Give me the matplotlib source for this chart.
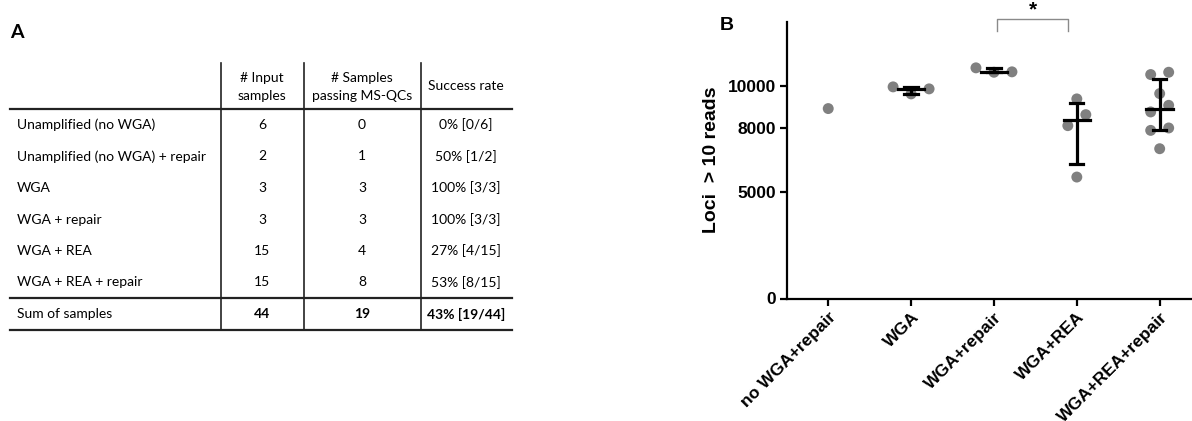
import numpy as np
import matplotlib.pyplot as plt

# --- table (panel A) ---
row_labels = ['Unamplified (no WGA)', 'Unamplified (no WGA) + repair', 'WGA',
              'WGA + repair', 'WGA + REA', 'WGA + REA + repair']
input_samples = [6, 2, 3, 3, 15, 15]
passing_qc = [0, 1, 3, 3, 4, 8]
header = ['# Input\nsamples', '# Samples\npassing MS-QCs', 'Success rate']
sum_label = 'Sum of samples'

# --- loci > 10 reads (panel B) ---
groups = ['no WGA+repair', 'WGA', 'WGA+repair', 'WGA+REA', 'WGA+REA+repair']
loci_nowga_repair = [8920]
loci_wga = [9939, 9609, 9845]
loci_wga_repair = [10833, 10626, 10645]
loci_wga_rea = [9374, 8635, 8118, 5704]
loci_wga_rea_repair = [10518, 10626, 9624, 9073, 8762, 8009, 7896, 7035]
loci = [loci_nowga_repair, loci_wga, loci_wga_repair, loci_wga_rea, loci_wga_rea_repair]
yticks = [0, 5000, 8000, 10000]
sig_pair = (2, 3)


def rate(p, n):
    return f'{round(100 * p / n)}% [{p}/{n}]'


def swarm(ax, x0, vals, row_gap=11.5, step=18):
    # group close values into rows (pixel units), then spread each row sideways
    ypx = ax.transData.transform(np.column_stack([np.full(len(vals), x0), vals]))[:, 1]
    xpx = ax.transData.transform([[x0 + 1, 0]])[0, 0] - ax.transData.transform([[x0, 0]])[0, 0]
    order = np.argsort(vals)
    rows, cur = [], [order[0]]
    for i in order[1:]:
        if abs(ypx[i] - ypx[cur[0]]) < row_gap:
            cur.append(i)
        else:
            rows.append(cur)
            cur = [i]
    rows.append(cur)
    offs = np.zeros(len(vals))
    for r in rows:
        n = len(r)
        if n % 2:
            slots = [0] + [s * k for k in range(1, n) for s in (1, -1)]
        else:
            slots = [s * (k - 0.5) for k in range(1, n) for s in (-1, 1)]
        for j, i in enumerate(r):
            offs[i] = slots[j] * step
    return x0 + offs / xpx


W, H = 1192, 421
fig = plt.figure(figsize=(W / 100, H / 100), dpi=100)

# panel A drawn in pixel space
ta = fig.add_axes([0, 0, 1, 1])
ta.set_xlim(0, W)
ta.set_ylim(H, 0)
ta.axis('off')
tfont = dict(family=['Lato', 'DejaVu Sans'], fontsize=10, color='black')

left, right = 10, 512
cols = [221, 304, 421]
col_mid = [262, 362, 466]
top, head_bot, sum_top, bottom = 63, 109, 298, 330
row_y = np.linspace(125, 282.5, len(row_labels))

for x in cols:
    ta.plot([x, x], [top, bottom], color='#222222', lw=1.2)
for y in (head_bot, sum_top, bottom):
    ta.plot([left, right], [y, y], color='#222222', lw=1.6)

for j, h in enumerate(header):
    ta.text(col_mid[j], 86.5, h, ha='center', va='center', linespacing=1.6, **tfont)

for i, lab in enumerate(row_labels):
    y = row_y[i]
    ta.text(17, y, lab, ha='left', va='center', **tfont)
    ta.text(col_mid[0], y, str(input_samples[i]), ha='center', va='center', **tfont)
    ta.text(col_mid[1], y, str(passing_qc[i]), ha='center', va='center', **tfont)
    ta.text(col_mid[2], y, rate(passing_qc[i], input_samples[i]), ha='center', va='center', **tfont)

n_tot, p_tot = sum(input_samples), sum(passing_qc)
ys = 314
ta.text(17, ys, sum_label, ha='left', va='center', **tfont)
ta.text(col_mid[0], ys, str(n_tot), ha='center', va='center', fontweight='bold', **tfont)
ta.text(col_mid[1], ys, str(p_tot), ha='center', va='center', fontweight='bold', **tfont)
ta.text(col_mid[2], ys, rate(p_tot, n_tot), ha='center', va='center', fontweight='bold', **tfont)

ta.text(10, 33, 'A', ha='left', va='center', fontsize=14, fontweight='bold',
        family=['Lato', 'DejaVu Sans'])
ta.text(720, 25, 'B', ha='left', va='center', fontsize=14, fontweight='bold',
        family=['Liberation Sans', 'DejaVu Sans'])

# panel B
bfont = ['Liberation Sans', 'DejaVu Sans']
ax = fig.add_axes([787.3 / W, (H - 298.5) / H, (W - 787.3) / W, (298.5 - 21.7) / H])
ax.set_xlim(-0.494, 4.39)
ax.set_ylim(0, 13000)
for s in ('top', 'right'):
    ax.spines[s].set_visible(False)
for s in ('left', 'bottom'):
    ax.spines[s].set_linewidth(1.6)

for i, vals in enumerate(loci):
    vals = np.asarray(vals, float)
    xs = swarm(ax, i, vals)
    ax.scatter(xs, vals, s=62, color='#808080', edgecolors='none', zorder=2, clip_on=False)
    if len(vals) > 1:
        med = np.median(vals)
        q1, q3 = np.percentile(vals, [25, 75], method='weibull')
        ax.plot([i, i], [q1, q3], color='black', lw=2.3, zorder=3, solid_capstyle='butt')
        for q in (q1, q3):
            ax.plot([i - 0.08, i + 0.08], [q, q], color='black', lw=2.3, zorder=3)
        ax.plot([i - 0.16, i + 0.16], [med, med], color='black', lw=2.3, zorder=3)

# significance bracket
a, b = sig_pair
bx = [a + 0.04, a + 0.04, b - 0.11, b - 0.11]
by = [12540, 13150, 13150, 12540]
ax.plot(bx, by, color='#8a8a8a', lw=1.0, clip_on=False)
ax.text((bx[0] + bx[-1]) / 2, 13980, '*', ha='center', va='top', fontsize=15,
        fontweight='bold', family=bfont)

ax.set_yticks(yticks)
ax.set_yticklabels([str(v) for v in yticks], family=bfont, fontweight='bold', fontsize=12.5)
ax.set_xticks(range(len(groups)))
ax.set_xticklabels(groups, rotation=45, ha='right', rotation_mode='anchor',
                   family=bfont, fontweight='bold', fontsize=12.5)
ax.tick_params(axis='both', width=1.6, length=5, direction='out', pad=3)
ax.set_ylabel('Loci  > 10 reads', family=bfont, fontweight='bold', fontsize=14, labelpad=6)

fig.savefig('out.png', dpi=100)
